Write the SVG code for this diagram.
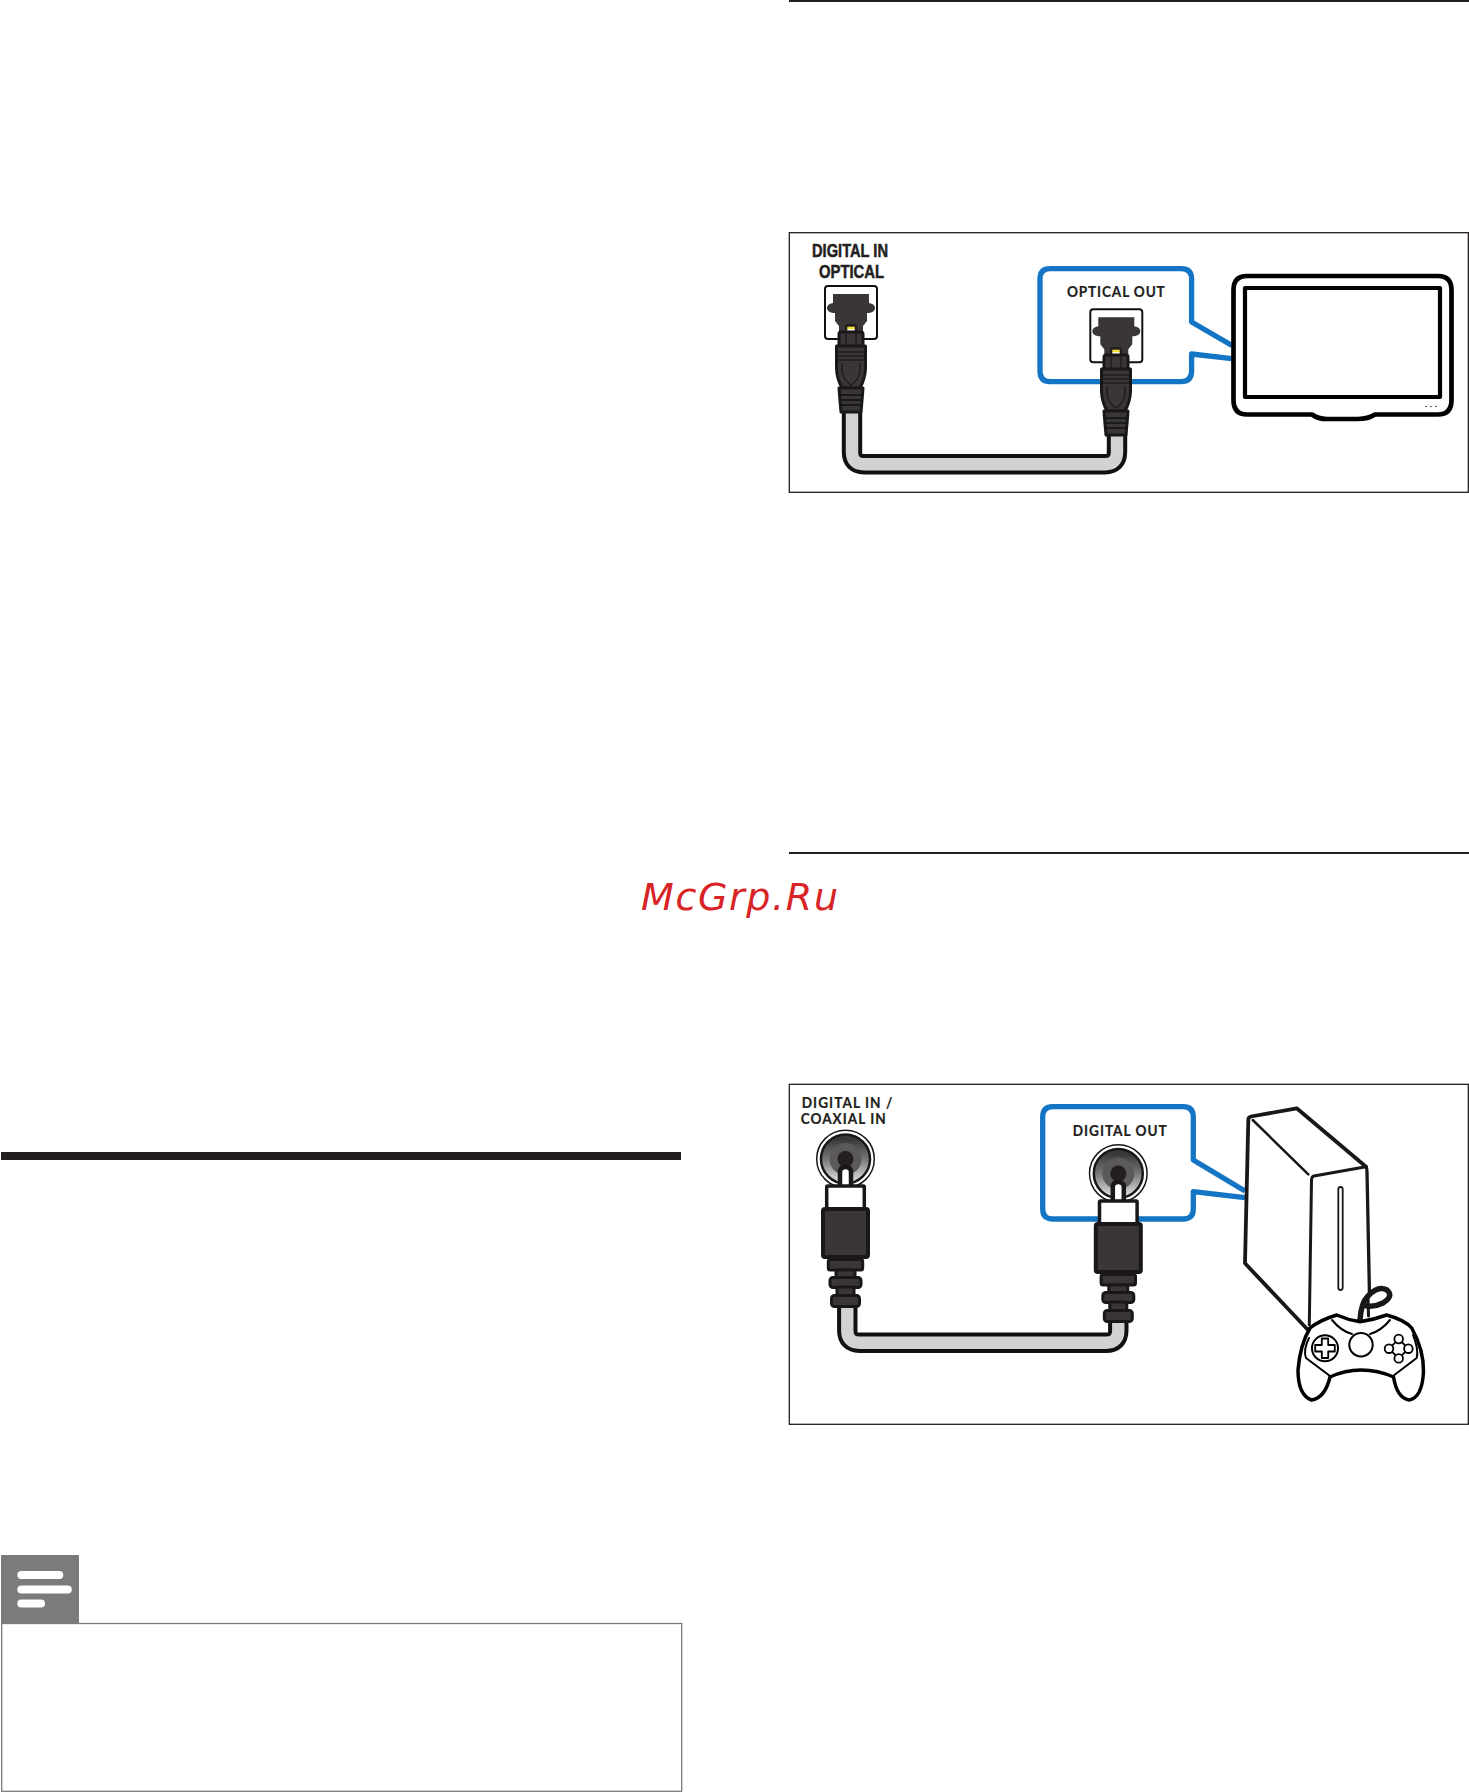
<svg xmlns="http://www.w3.org/2000/svg" width="1469" height="1792" viewBox="0 0 1469 1792">
<defs>
<style>
.frame{fill:#fff;stroke:#231f20;stroke-width:1.3}
.lbl{font-family:"Lato","Noto Sans","DejaVu Sans",sans-serif;font-weight:700;fill:#231f20;font-size:16px;stroke:#231f20;stroke-width:.25}
.lblb{font-family:"Liberation Sans","Arial",sans-serif;font-weight:700;fill:#231f20;font-size:18px;stroke:#231f20;stroke-width:.5}
.blue{fill:none;stroke:#1475c4;stroke-width:5.300;stroke-linejoin:round}
.cableO{fill:none;stroke:#111;stroke-width:20.400}
.cableI{fill:none;stroke:#d2d2d2;stroke-width:12.400}
.dk{fill:#3a3637;stroke:#1a1718;stroke-width:3;stroke-linejoin:round}
.ln{fill:none;stroke:#1a1718;stroke-linecap:round;stroke-linejoin:round}
</style>
<linearGradient id="jack" x1="0" y1="0" x2="0" y2="1"><stop offset="0.1" stop-color="#3a3738"/><stop offset="0.5" stop-color="#777"/><stop offset="1" stop-color="#e8e8e8"/></linearGradient>
<g id="optPlug">
<path d="M-6 6 V-1 Q-6 -3 -4 -3 H4 Q6 -3 6 -1 V6 Z" fill="#231f20"/>
<rect x="-3.700" y="2" width="7.400" height="4" fill="#fff"/>
<rect x="-3.700" y="-0.300" width="7.400" height="2.500" fill="#f5e13a"/>
<path class="dk" d="M-12 20 V7 Q-12 5 -10 5 H10 Q12 5 12 7 V20 Z"/>
<path d="M-5 6 V18 M5 6 V18" stroke="#111" stroke-width="1"/>
<path class="dk" d="M-14.500 19 H14.500 V42 Q14 52 9 61 H-9 Q-14 52 -14.500 42 Z"/>
<path d="M-14 25H14M-14 29H14M-14 33H14" stroke="#111" stroke-width="1.200"/>
<path d="M-9 36 L-9 44 Q-7 54 0 58 Q7 54 9 44 L9 36" fill="none" stroke="#1a1718" stroke-width="1.200"/>
<path class="dk" d="M-12 61 H12 L11.500 68 L10 85 H-10 L-11.500 68 Z"/>
<path d="M-11 68H11M-10 73H10M-10 78H10" stroke="#111" stroke-width="1.500"/>
</g>
<g id="optPort">
<rect x="-26" y="-26" width="52" height="53" rx="3" fill="#fff" stroke="#111" stroke-width="2"/>
<path d="M-18 -18 H18 V-9 Q24 -8 24 -4 Q24 0 18 1 L16 1 L16 9 L12 14 L12 20 L-12 20 L-12 14 L-16 9 L-16 1 L-18 1 Q-24 0 -24 -4 Q-24 -8 -18 -9 Z" fill="#3a3637"/>
</g>
<g id="rcaJack">
<circle r="28.800" fill="#fff" stroke="#1a1718" stroke-width="1.500"/>
<circle r="24.500" fill="url(#jack)" stroke="#1a1718" stroke-width="2.500"/>
<circle r="16" fill="#5c595a"/>
<circle r="8" fill="#231f20"/>
</g>
<g id="rcaPlug">
<path d="M-5.500 20 V4 Q-5.500 -1 0 -1 Q5.500 -1 5.500 4 V20 Z" fill="#fff" stroke="#1a1718" stroke-width="4.500"/>
<rect x="-18.800" y="18" width="37.600" height="24" rx="1" fill="#fff" stroke="#1a1718" stroke-width="3.500"/>
<rect x="-22.500" y="41" width="45" height="48" rx="2" fill="#3a3637" stroke="#1a1718" stroke-width="4"/>
<rect x="-17.200" y="91.500" width="34.400" height="10.500" rx="2" class="dk"/>
<rect x="-9.500" y="102" width="19" height="8" class="dk"/>
<rect x="-15.500" y="109.500" width="31" height="10" rx="3" class="dk"/>
<rect x="-8.500" y="119" width="17" height="9" class="dk"/>
<rect x="-14" y="127.500" width="28" height="11" rx="3" class="dk"/>
</g>
</defs>
<rect width="1469" height="1792" fill="#fff"/>

<g id="page-rules">
<rect x="789" y="0" width="680" height="2" fill="#231f20"/>
<rect x="789" y="852" width="680" height="2" fill="#231f20"/>
<rect x="1" y="1152" width="680" height="8" fill="#231f20"/>
</g>

<g id="note">
<rect x="1.700" y="1623.500" width="680" height="167.800" fill="#fff" stroke="#7c7a7a" stroke-width="1.300"/>
<rect x="1" y="1555" width="78" height="69" fill="#7c7a7a"/>
<rect x="17.300" y="1571" width="46" height="8" rx="4" fill="#fff"/>
<rect x="17.300" y="1585.400" width="54.500" height="8" rx="4" fill="#fff"/>
<rect x="17.300" y="1599.500" width="27.700" height="8" rx="4" fill="#fff"/>
</g>

<g id="watermark">
<text x="641" y="910" textLength="197" lengthAdjust="spacing" font-family="'DejaVu Sans',sans-serif" font-style="italic" font-size="38" fill="#d82327">McGrp.Ru</text>
</g>

<g id="panel-optical">
<rect class="frame" x="789.300" y="232.700" width="679" height="259.600"/>
</g>
<g id="callout-optical">
<path class="blue" d="M1232 345.500 L1191.600 322 V279 Q1191.600 268.700 1181 268.700 H1050 Q1040 268.700 1040 279 V371 Q1040 381.600 1050 381.600 H1181 Q1191.600 381.600 1191.600 371 V354 L1232 358.700"/>
</g>
<g id="tv">
<path d="M1247 276 H1438 Q1451.500 276 1451.500 290 V400 Q1451.500 414.500 1438 414.500 H1375 Q1368 419 1358 419 H1327 Q1318 419 1312 414.500 H1247 Q1233.500 414.500 1233.500 400 V290 Q1233.500 276 1247 276 Z" fill="#fff" stroke="#000" stroke-width="4.700" stroke-linejoin="round"/>
<rect x="1245" y="288" width="195" height="109" fill="#fff" stroke="#000" stroke-width="4.200" stroke-linejoin="round"/>
<circle cx="1426" cy="406.500" r="0.800" fill="#333"/><circle cx="1431" cy="406.500" r="0.800" fill="#333"/><circle cx="1436" cy="406.500" r="0.800" fill="#333"/>
</g>
<g id="connector-optical">
<path class="cableO" d="M852 410 V452 Q852 464.200 864 464.200 H1105 Q1117 464.200 1117 452 V430"/>
<path class="cableI" d="M852 410 V452 Q852 464.200 864 464.200 H1105 Q1117 464.200 1117 452 V430"/>
</g>
<g id="port-digital-in-optical">
<text class="lblb" x="812" y="256.500" textLength="76" lengthAdjust="spacingAndGlyphs">DIGITAL IN</text>
<text class="lblb" x="819" y="278" textLength="65" lengthAdjust="spacingAndGlyphs">OPTICAL</text>
<use href="#optPort" x="851" y="312"/>
<use href="#optPlug" x="851" y="327"/>
</g>
<g id="port-optical-out">
<text class="lbl" transform="translate(1067 297) scale(.85 1)" textLength="115" lengthAdjust="spacing">OPTICAL OUT</text>
<use href="#optPort" x="1116.300" y="335.300"/>
<use href="#optPlug" x="1116" y="350"/>
</g>

<g id="panel-coaxial">
<rect class="frame" x="789.300" y="1084.300" width="679" height="340"/>
</g>
<g id="callout-coaxial">
<path class="blue" d="M1245 1191 L1193.300 1160 V1117 Q1193.300 1106.700 1183 1106.700 H1053 Q1042.700 1106.700 1042.700 1117 V1209 Q1042.700 1219 1053 1219 H1183 Q1193.300 1219 1193.300 1209 V1191.700 L1245 1197.700"/>
</g>
<g id="console">
<path d="M1251 1116.500 L1296.700 1108.300 L1366 1166.700 L1370 1318 L1309 1328 L1245 1263.300 L1248.300 1120 Q1248.300 1117 1251 1116.500 Z" fill="#fff" stroke="none"/>
<path class="ln" stroke-width="3.800" d="M1309 1331 L1245 1263.300 L1248.300 1120 Q1248.300 1117 1251 1116.500 L1296.700 1108.300 L1366 1166.700"/>
<path class="ln" stroke-width="2.500" d="M1252.700 1120 L1308.300 1174.300"/>
<path class="ln" stroke-width="3" d="M1366 1166.700 L1314 1176 Q1311.700 1176.500 1311.500 1180 L1309.300 1325"/>
<path class="ln" stroke-width="3.300" d="M1366 1166.700 Q1367 1168 1367 1172 L1369.500 1296"/>
<rect x="1338.300" y="1187" width="4.400" height="103" rx="2.200" fill="#fff" stroke="#1a1718" stroke-width="1.800"/>
</g>
<g id="gamepad">
<path class="ln" stroke-width="5.500" d="M1360 1320 Q1361 1303 1368 1296 Q1378 1285 1387 1290 Q1394 1296 1383 1303 Q1375 1307 1367 1306"/>
<path class="ln" stroke-width="3" d="M1368 1296 L1368.500 1316"/>
<path d="M1336.700 1315 Q1348 1320 1360 1321.700 Q1373 1320 1386.700 1315 Q1405 1320 1411.700 1328 Q1424 1350 1423.500 1372 Q1422 1398 1409 1400 Q1397 1398 1393.500 1377 Q1378 1370 1361 1370 Q1345 1370 1330 1377 Q1325 1398 1311.500 1400 Q1298 1395 1298 1370 Q1300 1345 1310 1328 Q1320 1320 1336.700 1315 Z" fill="#fff" stroke="#000" stroke-width="3.500" stroke-linejoin="round"/>
<path class="ln" stroke-width="2" style="stroke:#000" d="M1332 1320 Q1341 1331 1352 1334 M1370 1334 Q1381 1331 1390 1320 M1309 1338 Q1303 1350 1306 1358 L1330 1376 M1413 1335 Q1419 1350 1416.700 1358 L1393 1376"/>
<circle cx="1361" cy="1344.700" r="11.700" fill="#fff" stroke="#000" stroke-width="2"/>
<circle cx="1325" cy="1348.300" r="13" fill="#fff" stroke="#000" stroke-width="2"/>
<path d="M1321.800 1338.500 H1328.200 V1345 H1334.800 V1351.500 H1328.200 V1358 H1321.800 V1351.500 H1315.200 V1345 H1321.800 Z" fill="#fff" stroke="#000" stroke-width="1.800" stroke-linejoin="round"/>
<path d="M1398.700 1339 L1408.400 1348.700 L1398.700 1358.400 L1389 1348.700 Z" fill="#fff" stroke="#000" stroke-width="1.800"/>
<circle cx="1398.700" cy="1339" r="4.300" fill="#fff" stroke="#000" stroke-width="1.800"/><circle cx="1408.400" cy="1348.700" r="4.300" fill="#fff" stroke="#000" stroke-width="1.800"/><circle cx="1398.700" cy="1358.400" r="4.300" fill="#fff" stroke="#000" stroke-width="1.800"/><circle cx="1389" cy="1348.700" r="4.300" fill="#fff" stroke="#000" stroke-width="1.800"/>
</g>
<g id="connector-coaxial">
<path class="cableO" d="M847.300 1300 V1330.500 Q847.300 1342.700 859.500 1342.700 H1106 Q1118.300 1342.700 1118.300 1330.500 V1315"/>
<path class="cableI" d="M847.300 1300 V1330.500 Q847.300 1342.700 859.500 1342.700 H1106 Q1118.300 1342.700 1118.300 1330.500 V1315"/>
</g>
<g id="port-coaxial-in">
<text class="lbl" transform="translate(801.700 1107.700) scale(.85 1)" textLength="106.500" lengthAdjust="spacing">DIGITAL IN /</text>
<text class="lbl" transform="translate(800.700 1124.300) scale(.85 1)" textLength="100" lengthAdjust="spacing">COAXIAL IN</text>
<use href="#rcaJack" x="845.500" y="1159"/>
<use href="#rcaPlug" x="845.500" y="1168"/>
</g>
<g id="port-digital-out">
<text class="lbl" transform="translate(1072.700 1136) scale(.85 1)" textLength="110.500" lengthAdjust="spacing">DIGITAL OUT</text>
<use href="#rcaJack" x="1118.300" y="1173.500"/>
<use href="#rcaPlug" x="1118.300" y="1183"/>
</g>
</svg>
